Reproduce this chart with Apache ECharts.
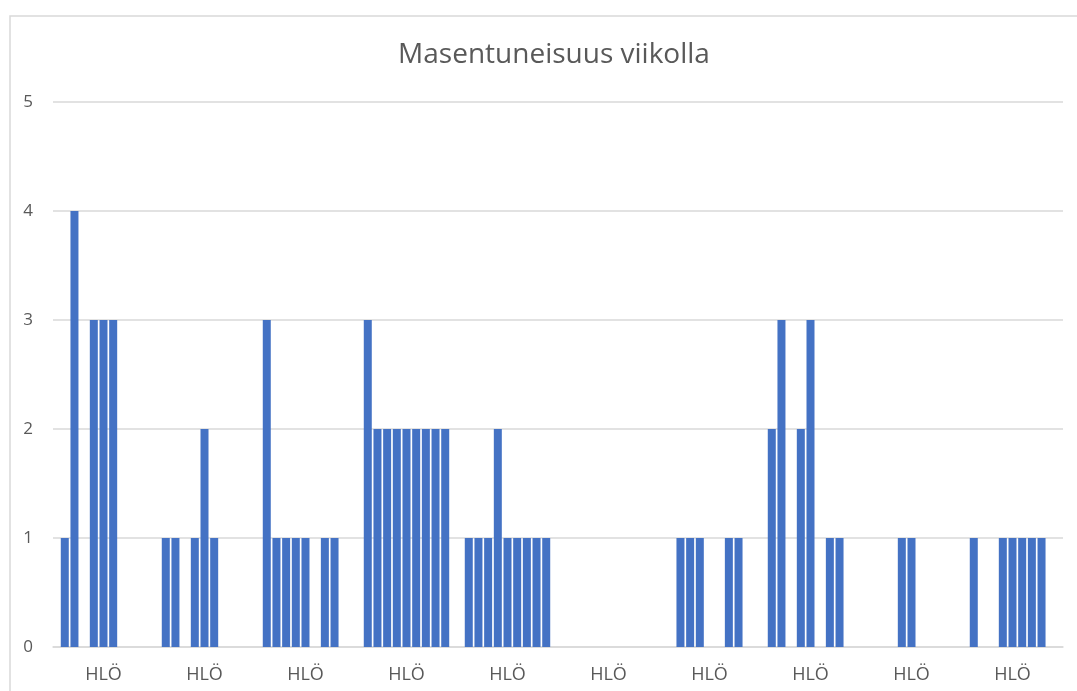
<!DOCTYPE html>
<html>
<head>
<meta charset="utf-8">
<title>Masentuneisuus viikolla</title>
<script src="https://cdn.jsdelivr.net/npm/echarts@6/dist/echarts.min.js"></script>
<style>
  html, body { margin: 0; padding: 0; background: #fff; }
  #chart { width: 1077px; height: 691px; }
</style>
</head>
<body>
<div id="chart"></div>
<script>
// one label per person group
const categories = ["HLÖ", "HLÖ", "HLÖ", "HLÖ", "HLÖ", "HLÖ", "HLÖ", "HLÖ", "HLÖ", "HLÖ"];

// nine weekly answers (series), value per group
const s1 = [1, 1, 3, 3, 1, 0, 0, 2, 0, 1];
const s2 = [4, 1, 1, 2, 1, 0, 1, 3, 0, 0];
const s3 = [0, 0, 1, 2, 1, 0, 1, 0, 0, 0];
const s4 = [3, 1, 1, 2, 2, 0, 1, 2, 1, 1];
const s5 = [3, 2, 1, 2, 1, 0, 0, 3, 1, 1];
const s6 = [3, 1, 0, 2, 1, 0, 0, 0, 0, 1];
const s7 = [0, 0, 1, 2, 1, 0, 1, 1, 0, 1];
const s8 = [0, 0, 1, 2, 1, 0, 1, 1, 0, 1];
const s9 = [0, 0, 0, 2, 1, 0, 0, 0, 0, 0];

const seriesData = [s1, s2, s3, s4, s5, s6, s7, s8, s9];
const yTicks = { min: 0, max: 5, interval: 1 };

const chart = echarts.init(document.getElementById("chart"));
const font = "'Open Sans', 'Noto Sans', sans-serif";

chart.setOption({
  animation: false,
  textStyle: { fontFamily: font },
  title: {
    text: "Masentuneisuus viikolla",
    left: 549,
    top: 36,
    textAlign: "center",
    textStyle: { fontFamily: font, fontSize: 28, fontWeight: "normal", color: "#595959" },
  },
  graphic: [
    {
      type: "rect",
      left: 7.5,
      top: 13.5,
      shape: { width: 1100, height: 700 },
      style: { fill: "none", stroke: "#d9d9d9", lineWidth: 1.5 },
      silent: true,
    },
  ],
  grid: { left: 53, right: 14, top: 102, bottom: 44 },
  xAxis: {
    type: "category",
    data: categories,
    axisLine: { show: true, lineStyle: { color: "#d9d9d9", width: 1.5 } },
    axisTick: { show: false },
    axisLabel: { color: "#595959", fontSize: 18, margin: 19, fontFamily: font },
  },
  yAxis: {
    type: "value",
    min: yTicks.min,
    max: yTicks.max,
    interval: yTicks.interval,
    axisLine: { show: false },
    axisTick: { show: false },
    axisLabel: { color: "#595959", fontSize: 17, margin: 20, fontFamily: font },
    splitLine: { lineStyle: { color: "#d9d9d9", width: 1.5 } },
  },
  series: seriesData.map((d, i) => ({
    name: "Viikko " + (i + 1),
    type: "bar",
    data: d,
    barWidth: 8,
    barGap: "21%",
    itemStyle: { color: "#4472c4" },
  })),
});
</script>
</body>
</html>
